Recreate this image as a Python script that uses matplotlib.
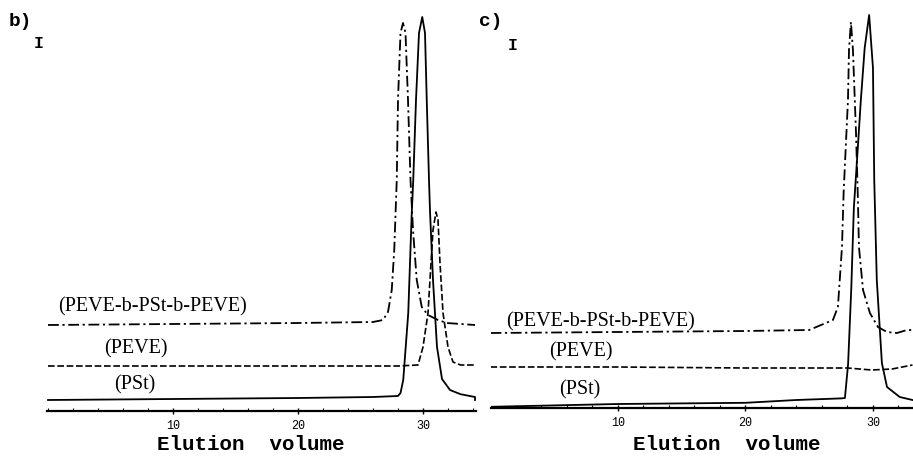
import matplotlib
matplotlib.use("Agg")
import matplotlib.pyplot as plt
from matplotlib.ticker import MultipleLocator

# ---- data (x: elution volume, y: intensity, arb.) ----
# panel b)
b_pst_x = [0, 10, 20, 26, 28.0, 28.2, 28.42, 28.82, 29.1, 29.22, 29.44, 29.68, 29.94,
           30.16, 30.3, 30.48, 30.56, 30.8, 31.12, 31.52, 32.16, 33.0, 34.16, 34.16]
b_pst_y = [2.75, 3.0, 3.25, 3.5, 3.75, 4.5, 7.75, 24.5, 49.5, 57.75, 77.75, 94.5, 98.5,
           94.5, 77.75, 57.75, 50.0, 32.75, 16.0, 8.0, 5.25, 4.2, 3.5, 2.75]

b_peve_x = [0, 10, 20, 28, 29.6, 30.0, 30.4, 30.64, 30.8, 31.04, 31.2, 31.36, 31.6,
            32.0, 32.4, 33.0, 34.16]
b_peve_y = [11.25, 11.25, 11.25, 11.25, 11.5, 16.0, 24.5, 37.0, 45.25, 49.75, 47.75,
            37.0, 24.5, 16.0, 12.25, 11.5, 11.5]

b_block_x = [0, 10, 20, 26, 26.8, 27.2, 27.5, 27.7, 27.9, 28.0, 28.2, 28.4, 28.6, 28.8,
             29.0, 29.2, 29.5, 29.9, 30.4, 31.2, 31.9, 34.16]
b_block_y = [21.5, 21.75, 22.0, 22.25, 22.75, 24.75, 30.25, 40.25, 57.75, 77.75, 94.5,
             97.0, 94.5, 77.75, 57.75, 45.25, 32.75, 26.0, 24.0, 22.75, 22.0, 21.5]

# panel c)
c_pst_x = [0, 10, 20, 24, 27.5, 27.8, 28.05, 28.3, 28.5, 28.75, 29.05, 29.35, 29.7,
           30.0, 30.1, 30.3, 30.7, 31.1, 32.1, 33.1]
c_pst_y = [0.3, 1.0, 1.3, 2.0, 2.4, 2.5, 11.0, 30.0, 50.0, 62.0, 77.0, 90.0, 98.25,
           85.0, 57.0, 32.0, 11.25, 5.25, 2.75, 2.0]

c_peve_x = [0, 10, 20, 28, 29.9, 31.5, 33.1]
c_peve_y = [10.25, 10.25, 10.0, 10.0, 9.5, 9.75, 10.75]

c_block_x = [0, 10, 20, 25, 26.86, 27.25, 27.57, 27.7, 28.04, 28.12, 28.27, 28.43, 28.67,
             28.82, 28.9, 29.22, 29.76, 30.39, 31.1, 31.88, 32.67, 33.14]
c_block_y = [18.75, 19.0, 19.25, 19.5, 22.0, 25.25, 40.25, 54.0, 77.0, 89.5, 96.5, 89.5,
             68.75, 52.0, 40.25, 29.5, 23.75, 20.25, 19.0, 18.75, 19.5, 19.5]

tick_values = [10, 20, 30]
series_labels = ["(PEVE-b-PSt-b-PEVE)", "(PEVE)", "(PSt)"]

W, H = 913, 457
fig = plt.figure(figsize=(W / 100, H / 100), dpi=100)

mono = "Liberation Mono"
serif = "Liberation Serif"


def make_axes(left_px, right_px, bottom_px, xlim, ylim):
    ax = fig.add_axes([left_px / W, 1 - bottom_px / H, (right_px - left_px) / W, bottom_px / H])
    ax.set_xlim(*xlim)
    ax.set_ylim(*ylim)
    for s in ["top", "right", "left"]:
        ax.spines[s].set_visible(False)
    ax.spines["bottom"].set_linewidth(1.6)
    ax.set_yticks([])
    ax.set_xticks(tick_values)
    ax.xaxis.set_minor_locator(MultipleLocator(2))
    ax.tick_params(axis="x", which="major", direction="inout", length=5, width=1, pad=4)
    ax.tick_params(axis="x", which="minor", direction="in", length=2, width=0.8)
    for lab in ax.get_xticklabels():
        lab.set_fontfamily(mono)
        lab.set_fontsize(8.5)
    ax.patch.set_alpha(0)
    return ax


def draw(ax, block, peve, pst, label_pos):
    ax.plot(*block, color="black", lw=1.3, ls=(0, (6, 2, 1.2, 2)))
    ax.plot(*peve, color="black", lw=1.2, ls=(0, (4, 1.6)))
    ax.plot(*pst, color="black", lw=1.3, ls="-")
    for text, (x, y) in zip(series_labels, label_pos):
        ax.text(x, y, text, family=serif, fontsize=14.5, ha="center", va="center")


ax_b = make_axes(47, 476, 411, (-0.08, 34.24), (0, 102.75))
draw(ax_b, (b_block_x, b_block_y), (b_peve_x, b_peve_y), (b_pst_x, b_pst_y),
     [(8.32, 26.0), (7.04, 15.5), (6.96, 6.5)])

ax_c = make_axes(491, 913, 408, (0.04, 33.14), (0, 102))
draw(ax_c, (c_block_x, c_block_y), (c_peve_x, c_peve_y), (c_pst_x, c_pst_y),
     [(8.59, 21.5), (7.1, 14.0), (7.02, 4.5)])


def ftext(px, py, s, size, **kw):
    fig.text(px / W, 1 - py / H, s, ha="center", va="center", fontsize=size, **kw)


ftext(251, 445, "Elution  volume", 15, family=mono, weight="bold")
ftext(727, 445, "Elution  volume", 15, family=mono, weight="bold")
ftext(20, 21, "b)", 14, family=mono, weight="bold")
ftext(39, 44, "I", 12, family=mono, weight="bold")
ftext(491, 22, "c)", 14, family=mono, weight="bold")
ftext(513, 46, "I", 12, family=mono, weight="bold")

fig.savefig("out.png", dpi=100)
